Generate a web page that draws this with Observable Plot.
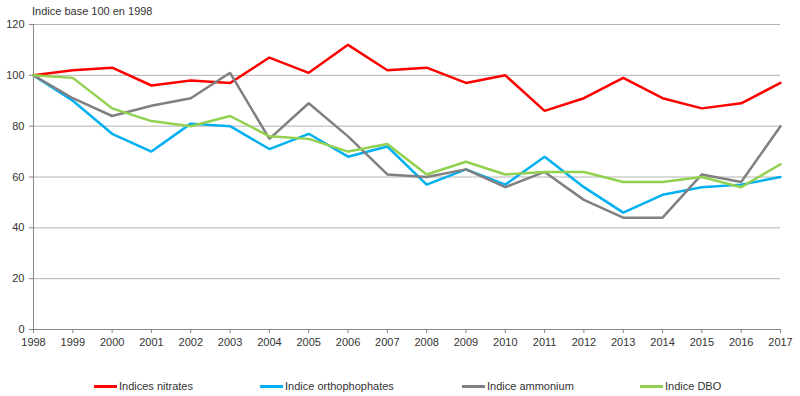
<!DOCTYPE html>
<html>
<head>
<meta charset="utf-8">
<script src="https://cdn.jsdelivr.net/npm/d3@7"></script>
<script src="https://cdn.jsdelivr.net/npm/@observablehq/plot@0.6"></script>
<style>
  html, body { margin: 0; padding: 0; background: #fff; }
  body { position: relative; width: 800px; height: 396px; overflow: hidden; font-family: "Liberation Sans", Arial, sans-serif; }
  #title { position: absolute; left: 32px; top: 0; height: 22px; line-height: 22px; font-size: 11px; color: #333; z-index: 2; }
  #chart svg { display: block; }
  #legend { position: relative; height: 20px; margin-top: 16px; font-size: 11px; color: #333; }
  .item { position: absolute; top: 0; height: 20px; display: flex; align-items: center; }
  .sw { width: 23px; height: 3px; margin-right: 2px; }
</style>
</head>
<body>
<div id="title">Indice base 100 en 1998</div>
<div id="chart"></div>
<div id="legend"></div>
<script>
const years = [1998,1999,2000,2001,2002,2003,2004,2005,2006,2007,2008,2009,2010,2011,2012,2013,2014,2015,2016,2017];
const seriesNames = ["Indices nitrates", "Indice orthophophates", "Indice ammonium", "Indice DBO"];
const seriesColors = ["#ff0000", "#00b0f0", "#808080", "#92d050"];
const nitrates = [100,102,103,96,98,97,107,101,112,102,103,97,100,86,91,99,91,87,89,97];
const orthophosphates = [100,90,77,70,81,80,71,77,68,72,57,63,57,68,56,46,53,56,57,60];
const ammonium = [100,91,84,88,91,101,75,89,76,61,60,63,56,62,51,44,44,61,58,80];
const dbo = [100,99,87,82,80,84,76,75,70,73,61,66,61,62,62,58,58,60,56,65];
const yTicks = [0,20,40,60,80,100,120];
const xTicks = years;

const allSeries = [nitrates, orthophosphates, ammonium, dbo];
const rows = [];
allSeries.forEach((vals, si) => {
  vals.forEach((v, i) => rows.push({year: years[i], value: v, series: seriesNames[si]}));
});

const chart = Plot.plot({
  width: 800,
  height: 360,
  marginLeft: 33,
  marginRight: 20,
  marginTop: 24,
  marginBottom: 31,
  style: {fontFamily: "'Liberation Sans', Arial, sans-serif", fontSize: "11px", color: "#333", background: "#fff"},
  x: {domain: [1998, 2017], ticks: xTicks, tickFormat: d => String(d), label: null},
  y: {domain: [0, 120], ticks: yTicks, label: null},
  color: {domain: seriesNames, range: seriesColors},
  marks: [
    Plot.ruleY(yTicks.filter(d => d > 0), {stroke: "#b4b4b4", strokeWidth: 1}),
    Plot.axisY({ticks: yTicks, tickSize: 4, tickPadding: 5, stroke: "#868686", label: null}),
    Plot.axisX({ticks: xTicks, tickSize: 4, tickPadding: 5, stroke: "#868686", label: null, tickFormat: d => String(d)}),
    Plot.ruleX([1998], {stroke: "#868686"}),
    Plot.ruleY([0], {stroke: "#868686"}),
    Plot.line(rows, {x: "year", y: "value", z: "series", stroke: "series", strokeWidth: 2.5, strokeLinejoin: "miter", curve: "linear"})
  ]
});
document.getElementById("chart").appendChild(chart);

const legendX = [94, 260, 462, 640];
const legend = document.getElementById("legend");
seriesNames.forEach((name, i) => {
  const it = document.createElement("div");
  it.className = "item";
  it.style.left = legendX[i] + "px";
  const sw = document.createElement("div");
  sw.className = "sw";
  sw.style.background = seriesColors[i];
  const tx = document.createElement("span");
  tx.textContent = name;
  it.appendChild(sw); it.appendChild(tx);
  legend.appendChild(it);
});
</script>
</body>
</html>
